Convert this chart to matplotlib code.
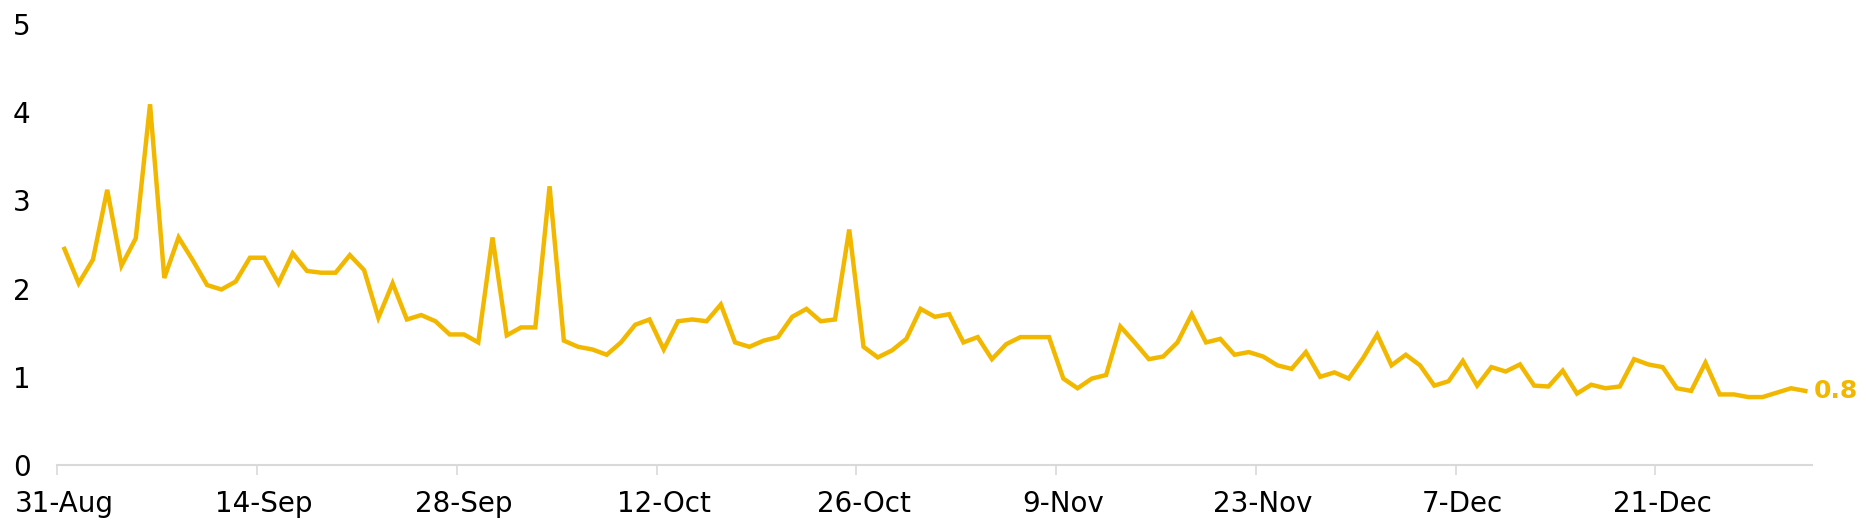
import numpy as np
import matplotlib
matplotlib.use('Agg')
from matplotlib import pyplot as plt
from matplotlib.ticker import FixedLocator

plt.rcParams['font.family'] = ['DejaVu Sans']

# daily values, 31-Aug to 31-Dec
values = [
    2.45, 2.06, 2.33, 3.12, 2.26, 2.57, 4.09, 2.12, 2.58, 2.32,
    2.04, 1.99, 2.08, 2.35, 2.35, 2.06, 2.40, 2.20, 2.18, 2.18,
    2.38, 2.21, 1.67, 2.06, 1.65, 1.70, 1.63, 1.48, 1.48, 1.39,
    2.58, 1.47, 1.56, 1.56, 3.16, 1.41, 1.34, 1.31, 1.25, 1.39,
    1.59, 1.65, 1.31, 1.63, 1.65, 1.63, 1.82, 1.39, 1.34, 1.41,
    1.45, 1.68, 1.77, 1.63, 1.65, 2.67, 1.34, 1.22, 1.30, 1.43,
    1.77, 1.68, 1.71, 1.39, 1.45, 1.20, 1.37, 1.45, 1.45, 1.45,
    0.98, 0.87, 0.98, 1.02, 1.57, 1.39, 1.20, 1.23, 1.39, 1.71,
    1.39, 1.43, 1.25, 1.28, 1.23, 1.13, 1.09, 1.28, 1.00, 1.05,
    0.98, 1.21, 1.48, 1.13, 1.25, 1.13, 0.90, 0.95, 1.18, 0.90,
    1.11, 1.06, 1.14, 0.90, 0.89, 1.07, 0.81, 0.91, 0.87, 0.89,
    1.20, 1.14, 1.11, 0.87, 0.84, 1.16, 0.80, 0.80, 0.77, 0.77,
    0.82, 0.87, 0.84,
]
tick_labels = ['31-Aug', '14-Sep', '28-Sep', '12-Oct', '26-Oct',
               '9-Nov', '23-Nov', '7-Dec', '21-Dec']
last_label = '0.8'

line_color = '#F2B800'
grey = '#D9D9D9'

x = np.arange(len(values))
tick_pos = x[::14][:len(tick_labels)]

fig = plt.figure(figsize=(18.66, 5.24), dpi=100)
ax = fig.add_axes([0.0307, 0.1126, 0.9406, 0.8416])

ax.plot(x, values, color=line_color, linewidth=3.2, solid_joinstyle='miter')

ax.set_xlim(-0.5, len(values) - 0.5)
ax.set_ylim(0, 5)

# labels sit on the day, tick marks sit between days
ax.set_xticks(tick_pos)
ax.set_xticklabels(tick_labels)
ax.xaxis.set_minor_locator(FixedLocator(tick_pos - 0.5))
ax.tick_params(axis='x', which='major', length=0, pad=18, labelsize=20)
ax.tick_params(axis='x', which='minor', length=7, width=1.2, color=grey)

ax.set_yticks(range(6))
ax.tick_params(axis='y', length=0, pad=32, labelsize=20)
for lab in ax.get_yticklabels():
    lab.set_horizontalalignment('left')

for side in ['top', 'right', 'left']:
    ax.spines[side].set_visible(False)
ax.spines['bottom'].set_color(grey)
ax.spines['bottom'].set_linewidth(1.5)

ax.annotate(last_label, (x[-1], values[-1]), xytext=(6, 0),
            textcoords='offset points', va='center', ha='left',
            color=line_color, fontsize=18, fontweight='bold',
            annotation_clip=False)

fig.savefig('out.png', dpi=100)
